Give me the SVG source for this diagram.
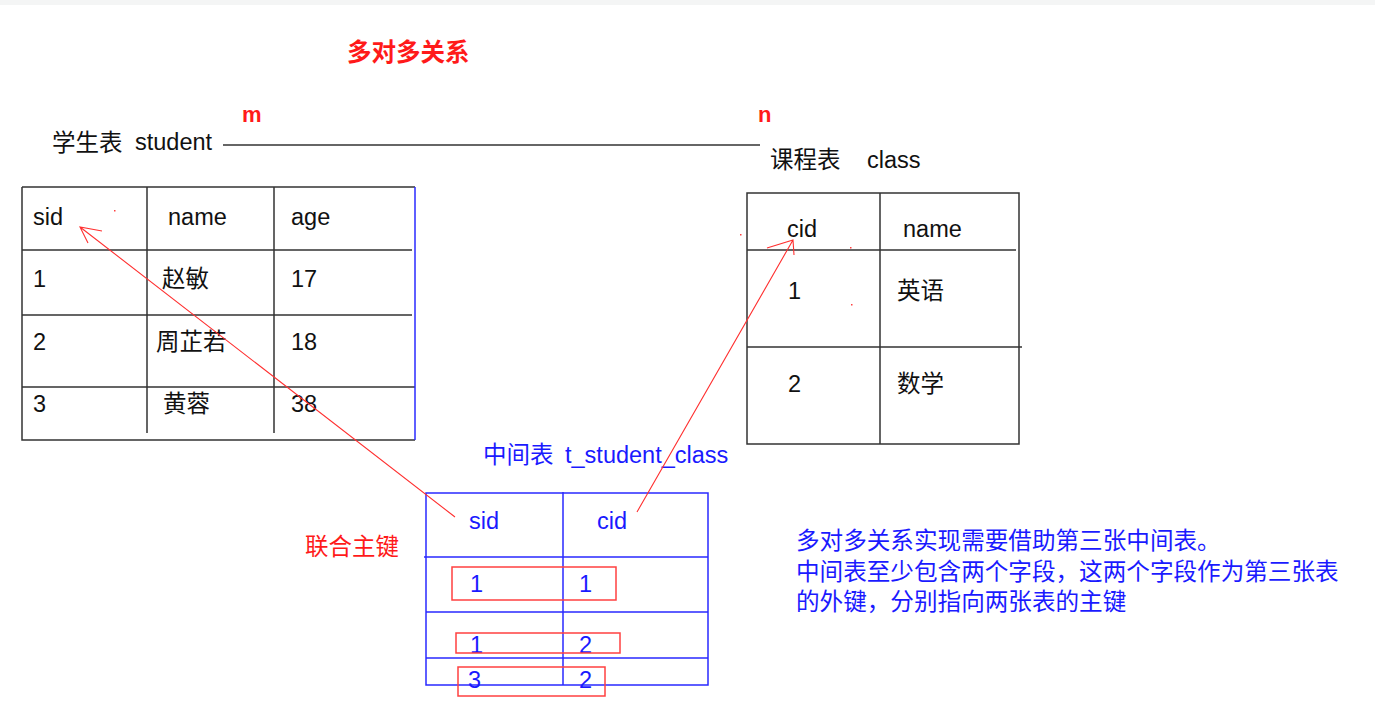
<svg xmlns="http://www.w3.org/2000/svg" width="1375" height="707" viewBox="0 0 1375 707">
<style>
text{font-family:"Liberation Sans","Noto Sans CJK SC",sans-serif;font-size:23.5px;fill:#111}
.red{fill:#ff1a1a}
.b{font-weight:bold}
.blue{fill:#1a1aff}
.note{font-size:23.6px}
.ln{stroke:#333;stroke-width:1.5;fill:none}
.bl{stroke:#2a2aff;stroke-width:1.5;fill:none}
.rbox{stroke:#ff4040;stroke-width:1.5;fill:none}
.arr{stroke:#ff3030;stroke-width:1.1;fill:none}
</style>
<rect x="0" y="0" width="1375" height="707" fill="#fff"/>
<rect x="0" y="0" width="1375" height="5" fill="#f4f5f5"/>

<g id="title">
<text x="347" y="61" class="red b" style="font-size:24.5px">多对多关系</text>
<text x="242" y="122" class="red b" style="font-size:22px">m</text>
<text x="758" y="122" class="red b" style="font-size:22px">n</text>
</g>

<g id="student">
<text x="52" y="151">学生表</text>
<text x="135" y="150">student</text>
<path class="ln" d="M22,187 H415 M22,187 V440 H415 M147,187 V433 M274,187 V433 M22,250 H412 M22,315 H412 M22,387 H415"/>
<path class="bl" d="M415,187 V440"/>
<text x="33" y="225">sid</text>
<text x="168" y="225">name</text>
<text x="291" y="225">age</text>
<text x="33" y="287">1</text>
<text x="162" y="287">赵敏</text>
<text x="291" y="287">17</text>
<text x="33" y="350">2</text>
<text x="156" y="350">周芷若</text>
<text x="291" y="350">18</text>
<text x="33" y="412">3</text>
<text x="163" y="412">黄蓉</text>
<text x="291" y="412">38</text>
</g>

<g id="class">
<text x="770" y="168">课程表</text>
<text x="867" y="168">class</text>
<path class="ln" d="M747,193 H1019 V444 H747 Z M880,193 V444 M747,250 H1016 M747,347 H1022"/>
<text x="787" y="237">cid</text>
<text x="903" y="237">name</text>
<text x="788" y="299">1</text>
<text x="897" y="299">英语</text>
<text x="788" y="392">2</text>
<text x="897" y="392">数学</text>
</g>

<g id="t_student_class">
<text x="483" y="463" class="blue">中间表</text>
<text x="565" y="463" class="blue">t_student_class</text>
<path class="bl" d="M426,493 H708 V685 H426 Z M563,492 V685 M424,557 H708 M426,612 H708 M426,658 H708"/>
<text x="469" y="529" class="blue">sid</text>
<text x="597" y="529" class="blue">cid</text>
<text x="470" y="592" class="blue">1</text>
<text x="579" y="592" class="blue">1</text>
<text x="470" y="653" class="blue">1</text>
<text x="579" y="653" class="blue">2</text>
<text x="468" y="688" class="blue">3</text>
<text x="579" y="688" class="blue">2</text>
<rect class="rbox" x="452" y="567" width="164" height="33"/>
<rect class="rbox" x="456" y="633" width="164" height="20"/>
<rect class="rbox" x="458" y="667" width="147" height="29"/>
</g>

<g id="pk-label">
<text x="305" y="555" class="red">联合主键</text>
</g>

<g id="note">
<text x="796" y="549" class="blue note">多对多关系实现需要借助第三张中间表。</text>
<text x="796" y="580" class="blue note">中间表至少包含两个字段，这两个字段作为第三张表</text>
<text x="796" y="610" class="blue note">的外键，分别指向两张表的主键</text>
</g>

<g id="connectors">
<path class="ln" d="M223,145 H760"/>
<path class="arr" d="M455,517 L80,227 M102,231 L80,227 L88,243"/>
<path class="arr" d="M637,512 L793,240 M767,248 L793,240 L794,255"/>
<g fill="#ff4040">
<rect x="114" y="210" width="1.5" height="1.5"/>
<rect x="740" y="234" width="1.5" height="1.5"/>
<rect x="850" y="247" width="1.5" height="1.5"/>
<rect x="851" y="304" width="1.5" height="1.5"/>
</g>
</g>
</svg>
